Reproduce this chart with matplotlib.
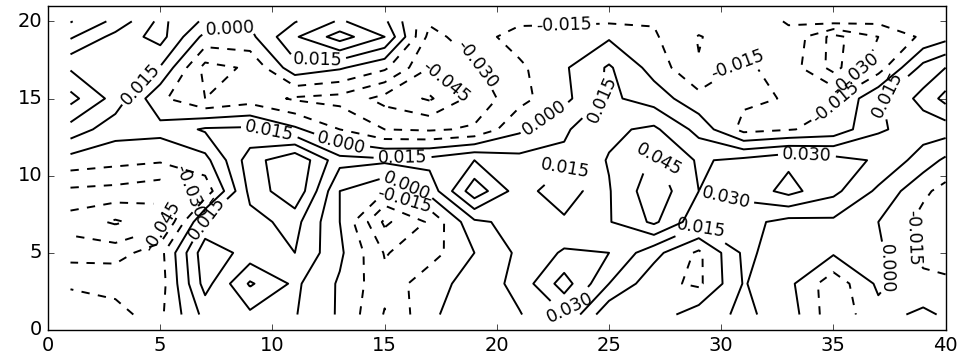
import numpy as np
import matplotlib
matplotlib.use('Agg')
import matplotlib.pyplot as plt

# grid nodes of the field
x_nodes = [1, 3, 5, 7, 9, 11, 13, 15, 17, 19, 21, 23, 25, 27, 29, 31, 33, 35, 37, 39, 40]
y_nodes = [1, 3, 5, 7, 9, 11, 13, 15, 17, 19, 20]

# field values (x 1e-3), one list per row, x running left to right
row_y20 = [-16, 4, 34, 12, 2, 14, 32, 18, -28, -20, -18, -18, -17, -16, -22, -22, -14, -10, -12, -14, -8]
row_y19 = [-2, 20, 36, -5, -4, 28, 52, 30, -35, -22, -8, -5, -2, -13, -31, -20, -18, -50, -30, -12, -5]
row_y17 = [28, 29, 14, -35, -28, 10, 2, -12, -45, -32, -18, -2, 17, -6, -29, -12, -22, -50, -22, 20, 30]
row_y15 = [50, 24, -12, -30, -22, -32, -35, -50, -62, -40, -20, -4, 18, 8, -10, -12, -16, -17, 13, 35, 50]
row_y13 = [24, 6, 5, 17, 18, 3, -15, -30, -32, -28, -3, 13, 27, 33, 10, -20, -16, -10, 13, 22, 22]
row_y11 = [-6, -10, -13, -5, 38, 58, 20, 18, 20, 30, 20, 18, 31, 47, 28, 34, 42, 36, 28, 8, -3]
row_y9 = [-33, -35, -40, -25, 34, 58, 0, -14, 5, 55, 22, 5, 29, 55, 30, 35, 50, 34, 12, -12, -20]
row_y7 = [-52, -62, -52, 18, 25, 35, 0, -48, -28, 12, 20, 18, 29, 48, 20, 20, 10, 12, 0, -20, -25]
row_y5 = [-36, -37, -20, 40, 24, 30, 3, -31, -22, 0, 18, 32, 30, 5, -18, 18, 8, 2, 3, -20, -22]
row_y3 = [-17, -17, -22, 36, -2, 18, -2, -26, -5, 5, 20, 52, 15, -10, -18, 16, 4, -25, 3, -10, -12]
row_y1 = [-6, -13, -18, 20, 18, 16, -2, -31, -3, 10, 14, 30, -12, -8, 8, 18, 8, -25, -5, 3, -2]

levels = [-0.045, -0.030, -0.015, 0.000, 0.015, 0.030, 0.045]
inner_levels = [-0.060]   # tiny closed rings, drawn without labels

# where the inline labels go
label_spots = [(8.1, 19.6), (4.0, 16.1), (12.0, 17.6), (19.4, 17.6), (17.8, 16.2),
               (23.0, 19.6), (22.0, 14.0), (25.0, 14.6), (9.9, 13.1), (13.1, 12.4),
               (15.8, 11.1), (16.0, 9.4), (16.0, 8.9), (6.6, 9.5), (7.1, 7.2),
               (5.0, 6.8), (23.0, 10.4), (27.2, 11.0), (30.7, 17.2), (36.0, 16.5),
               (35.0, 14.8), (37.7, 14.8), (33.8, 10.9), (30.0, 7.5), (29.0, 6.4),
               (23.0, 1.7), (38.7, 6.0), (37.9, 4.1)]

rows = [row_y1, row_y3, row_y5, row_y7, row_y9, row_y11,
        row_y13, row_y15, row_y17, row_y19, row_y20]
Z = np.array(rows, dtype=float) * 1e-3
X, Y = np.meshgrid(x_nodes, y_nodes)

plt.style.use('classic')
plt.rcParams['font.family'] = ['DejaVu Sans']

fig = plt.figure(figsize=(9.61, 3.61), dpi=100, facecolor='white')
ax = fig.add_axes([0.05, 0.086, 0.934, 0.8975])

cs = ax.contour(X, Y, Z, levels=levels, colors='k', linewidths=1.4)
ax.contour(X, Y, Z, levels=inner_levels, colors='k', linewidths=1.4)
ax.clabel(cs, inline=True, fontsize=12.5, fmt='%1.3f', manual=label_spots)

ax.set_xlim(0, 40)
ax.set_ylim(0, 21)
ax.set_xticks(range(0, 41, 5))
ax.set_yticks(range(0, 21, 5))
ax.tick_params(labelsize=14)

fig.savefig('out.png', dpi=100, facecolor='white')
